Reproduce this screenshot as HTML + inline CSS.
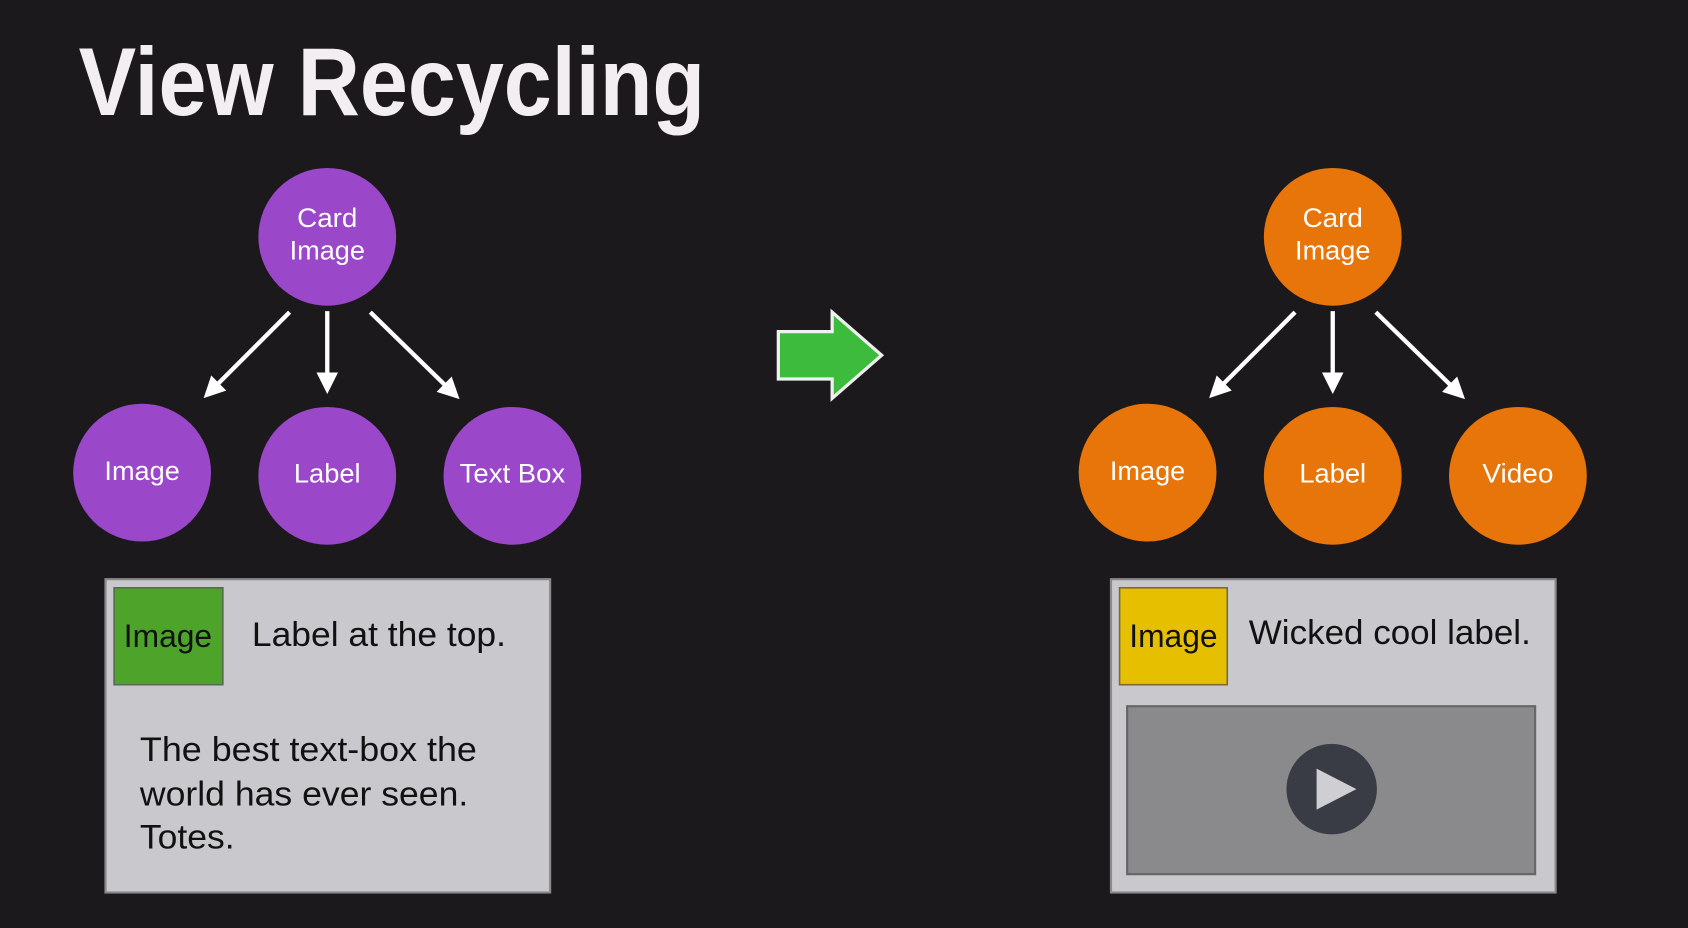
<!DOCTYPE html>
<html><head><meta charset="utf-8"><style>
html,body{margin:0;padding:0;background:#1c191d;width:1688px;height:928px;overflow:hidden}
svg{display:block}
text{font-family:"Liberation Sans",sans-serif}
</style></head><body>
<svg width="1688" height="928" viewBox="0 0 1568 862" preserveAspectRatio="none" xmlns="http://www.w3.org/2000/svg">
<defs>
<marker id="ah" viewBox="0 0 10 10" refX="8" refY="5" markerWidth="5" markerHeight="5" orient="auto" markerUnits="strokeWidth">
<path d="M0,0 L10,5 L0,10 z" fill="#fff"/></marker>
</defs>
<rect width="1568" height="862" fill="#1c191d"/>
<text x="73" y="107" font-size="90" font-weight="bold" fill="#f2eef2" textLength="582" lengthAdjust="spacingAndGlyphs">View Recycling</text>

<g fill="#9b47c9">
<circle cx="304" cy="220" r="64"/><circle cx="132" cy="439" r="64"/><circle cx="304" cy="442" r="64"/><circle cx="476" cy="442" r="64"/>
</g>
<g fill="#e8750a">
<circle cx="1238" cy="220" r="64"/><circle cx="1066" cy="439" r="64"/><circle cx="1238" cy="442" r="64"/><circle cx="1410" cy="442" r="64"/>
</g>
<g fill="#fff" font-size="25" text-anchor="middle">
<text x="304" y="211" textLength="56" lengthAdjust="spacingAndGlyphs">Card</text><text x="304" y="241" textLength="70" lengthAdjust="spacingAndGlyphs">Image</text>
<text x="132" y="446" textLength="70" lengthAdjust="spacingAndGlyphs">Image</text><text x="304" y="448" textLength="62" lengthAdjust="spacingAndGlyphs">Label</text><text x="476" y="448" textLength="98" lengthAdjust="spacingAndGlyphs">Text Box</text>
<text x="1238" y="211" textLength="56" lengthAdjust="spacingAndGlyphs">Card</text><text x="1238" y="241" textLength="70" lengthAdjust="spacingAndGlyphs">Image</text>
<text x="1066" y="446" textLength="70" lengthAdjust="spacingAndGlyphs">Image</text><text x="1238" y="448" textLength="62" lengthAdjust="spacingAndGlyphs">Label</text><text x="1410" y="448" textLength="66" lengthAdjust="spacingAndGlyphs">Video</text>
</g>
<g stroke="#fff" stroke-width="4" marker-end="url(#ah)">
<line x1="269" y1="290" x2="192" y2="367"/><line x1="304" y1="289" x2="304" y2="362"/><line x1="344" y1="290" x2="424" y2="368"/>
<line x1="1203" y1="290" x2="1126" y2="367"/><line x1="1238" y1="289" x2="1238" y2="362"/><line x1="1278" y1="290" x2="1358" y2="368"/>
</g>
<path d="M723,308 L773,308 L773,290 L819,330 L773,370 L773,352 L723,352 Z" fill="#3dbb3d" stroke="#f0f0f0" stroke-width="3"/>

<rect x="98" y="538" width="413" height="291" fill="#c9c8cd" stroke="#8a8a8a" stroke-width="2"/>
<rect x="106" y="546" width="101" height="90" fill="#4ea42b" stroke="#5a6a50" stroke-width="1.5"/>
<text x="156" y="601" font-size="30" fill="#111" text-anchor="middle" textLength="82" lengthAdjust="spacingAndGlyphs">Image</text>
<text x="234" y="600" font-size="32" fill="#111" textLength="236" lengthAdjust="spacingAndGlyphs">Label at the top.</text>
<text x="130" y="707" font-size="32" fill="#111" textLength="313" lengthAdjust="spacingAndGlyphs">The best text-box the</text>
<text x="130" y="748" font-size="32" fill="#111" textLength="305" lengthAdjust="spacingAndGlyphs">world has ever seen.</text>
<text x="130" y="788" font-size="32" fill="#111" textLength="88" lengthAdjust="spacingAndGlyphs">Totes.</text>

<rect x="1032" y="538" width="413" height="291" fill="#c9c8cd" stroke="#8a8a8a" stroke-width="2"/>
<rect x="1040" y="546" width="100" height="90" fill="#e6c000" stroke="#7a6a30" stroke-width="1.5"/>
<text x="1090" y="601" font-size="30" fill="#111" text-anchor="middle" textLength="82" lengthAdjust="spacingAndGlyphs">Image</text>
<text x="1160" y="598" font-size="32" fill="#111" textLength="262" lengthAdjust="spacingAndGlyphs">Wicked cool label.</text>
<rect x="1047" y="656" width="379" height="156" fill="#8a8a8d" stroke="#666" stroke-width="2"/>
<circle cx="1237" cy="733" r="42" fill="#3a3c45"/>
<path d="M1223,714 L1223,752 L1260,733 Z" fill="#cfcfd3"/>
</svg>
</body></html>
